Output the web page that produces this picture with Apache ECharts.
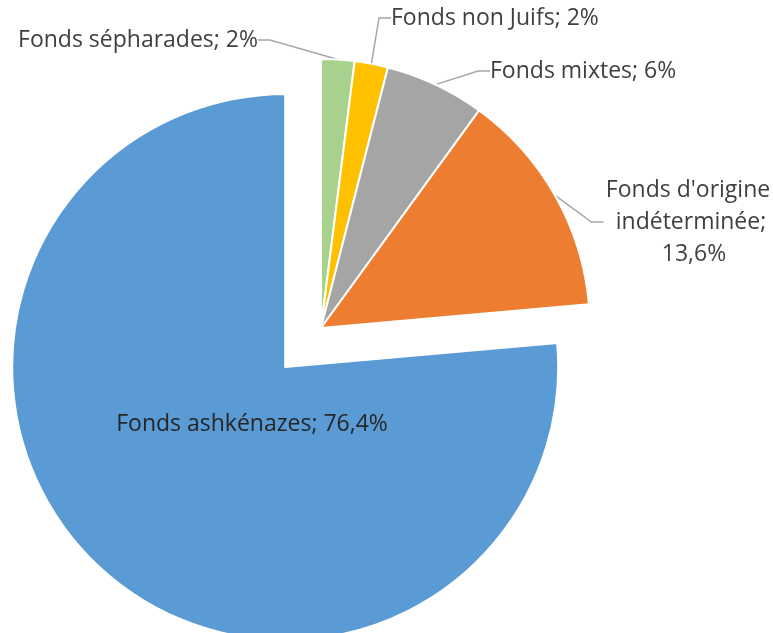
<!DOCTYPE html>
<html>
<head>
<meta charset="utf-8">
<script src="https://cdn.jsdelivr.net/npm/echarts@6/dist/echarts.min.js"></script>
<style>
  html, body { margin: 0; padding: 0; background: #fff; }
  #main { width: 773px; height: 633px; }
</style>
</head>
<body>
<div id="main"></div>
<script>
// données (sens horaire depuis midi)
var names = ['Fonds sépharades', 'Fonds non Juifs', 'Fonds mixtes', "Fonds d'origine indéterminée", 'Fonds ashkénazes'];
var values = [2, 2, 6, 13.6, 76.4];
var colors = ['#a9d18e', '#ffc000', '#a5a5a5', '#ed7d31', '#5b9bd5'];

// position des étiquettes [x, y, align]
var labelPos = [
  [258, 40, 'right'],
  [391, 18, 'left'],
  [490, 71, 'left'],
  [691, 222, 'center'],
  [252, 424, 'center']
];

var center = [321, 328];
var explodeIdx = 4;   // part détachée
var explodeDist = 53;

var myChart = echarts.init(document.getElementById('main'));

// centre de la part détachée, décalé le long de son angle médian
var total = 0, before = 0;
for (var i = 0; i < values.length; i++) {
  total += values[i];
  if (i < explodeIdx) before += values[i];
}
var mid = (before + values[explodeIdx] / 2) / total * 2 * Math.PI;
var center2 = [center[0] + explodeDist * Math.sin(mid), center[1] - explodeDist * Math.cos(mid)];

function fmt(p) {
  return p.name + '; ' + String(p.value).replace('.', ',') + '%';
}

var hidden = {
  itemStyle: { color: 'transparent', borderWidth: 0 },
  label: { show: false },
  labelLine: { show: false }
};

var dataMain = [], dataOut = [];
for (var i = 0; i < names.length; i++) {
  var a = { name: names[i], value: values[i], itemStyle: { color: colors[i] } };
  var b = { name: names[i], value: values[i], itemStyle: { color: colors[i] } };
  if (i == 3) {
    a.label = { width: 175, overflow: 'break', align: 'center' };
  }
  if (i == explodeIdx) {
    a = echarts.util.merge(a, hidden, true);
  } else {
    b = echarts.util.merge(b, hidden, true);
  }
  dataMain.push(a);
  dataOut.push(b);
}

var labelStyle = {
  fontFamily: 'Open Sans',
  fontSize: 23,
  lineHeight: 32,
  color: '#404040',
  formatter: fmt
};

var option = {
  animation: false,
  series: [
    {
      // part ashkénaze détachée
      type: 'pie',
      silent: true,
      center: center2,
      radius: 273,
      startAngle: 90,
      clockwise: true,
      avoidLabelOverlap: false,
      itemStyle: { borderColor: '#fff', borderWidth: 2 },
      label: echarts.util.extend({ show: true, position: 'inside' }, labelStyle),
      labelLine: { show: false },
      labelLayout: function (params) {
        var p = labelPos[params.dataIndex];
        return { x: p[0], y: p[1], align: p[2], verticalAlign: 'middle' };
      },
      data: dataOut
    },
    {
      type: 'pie',
      silent: true,
      center: center,
      radius: 269,
      startAngle: 90,
      clockwise: true,
      avoidLabelOverlap: false,
      itemStyle: { borderColor: '#fff', borderWidth: 2 },
      label: echarts.util.extend({ show: true, position: 'outside' }, labelStyle),
      labelLine: {
        show: true,
        length: 10,
        length2: 12,
        lineStyle: { color: '#a6a6a6', width: 1.5 }
      },
      labelLayout: function (params) {
        var p = labelPos[params.dataIndex];
        return { x: p[0], y: p[1], align: p[2], verticalAlign: 'middle' };
      },
      data: dataMain
    }
  ]
};
option.series[0].label.color = '#262626';

myChart.setOption(option, true);
window.addEventListener('resize', function () {
  myChart.resize();
});
</script>
</body>
</html>
